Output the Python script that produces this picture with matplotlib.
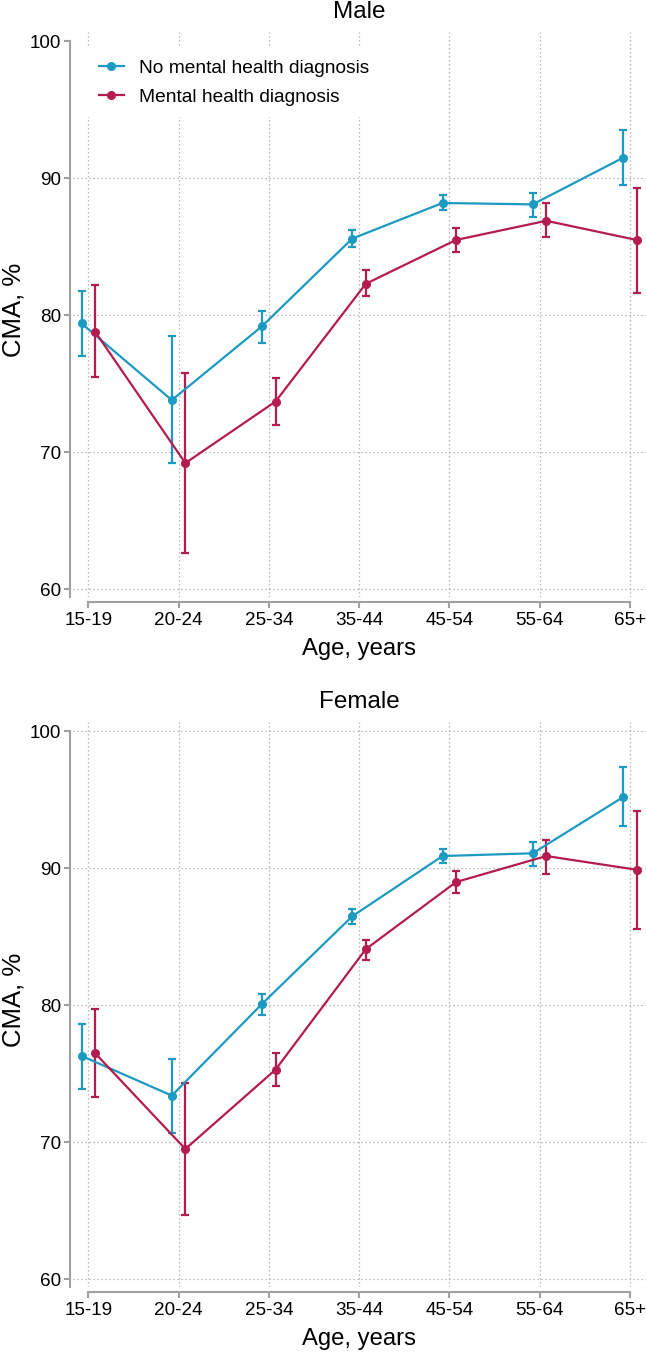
import matplotlib
matplotlib.use("Agg")
import matplotlib.pyplot as plt
import numpy as np

plt.rcParams['font.family'] = ['Liberation Sans', 'DejaVu Sans']

age_groups = ["15-19", "20-24", "25-34", "35-44", "45-54", "55-64", "65+"]
series_labels = ["No mental health diagnosis", "Mental health diagnosis"]

male_no_mh = [79.4, 73.8, 79.2, 85.6, 88.2, 88.1, 91.5]
male_no_mh_lo = [77.0, 69.2, 78.0, 85.0, 87.7, 87.2, 89.5]
male_no_mh_hi = [81.8, 78.5, 80.3, 86.2, 88.8, 88.9, 93.5]
male_mh = [78.8, 69.2, 73.7, 82.3, 85.5, 86.9, 85.5]
male_mh_lo = [75.5, 62.6, 72.0, 81.4, 84.6, 85.7, 81.6]
male_mh_hi = [82.2, 75.8, 75.4, 83.3, 86.4, 88.2, 89.3]

female_no_mh = [76.3, 73.4, 80.1, 86.5, 90.9, 91.1, 95.2]
female_no_mh_lo = [73.9, 70.7, 79.3, 85.9, 90.4, 90.2, 93.1]
female_no_mh_hi = [78.6, 76.1, 80.8, 87.0, 91.4, 91.9, 97.4]
female_mh = [76.5, 69.5, 75.3, 84.1, 89.0, 90.9, 89.9]
female_mh_lo = [73.3, 64.7, 74.1, 83.3, 88.2, 89.6, 85.6]
female_mh_hi = [79.7, 74.3, 76.5, 84.8, 89.8, 92.1, 94.2]

yticks = [60, 70, 80, 90, 100]

BLUE = "#1C9AC2"
RED = "#B51C4E"
GRID = "#a8a8a8"
SPINE = "#a0a0a0"

W, H = 646, 1352
fig = plt.figure(figsize=(W / 100, H / 100), dpi=100)

def px_axes(left, top, right, bottom):
    return fig.add_axes([left / W, 1 - bottom / H, (right - left) / W, (bottom - top) / H])

ax_m = px_axes(73, 32, 646, 597)
ax_f = px_axes(73, 722, 646, 1287)

panels = [
    (ax_m, "Male", (male_no_mh, male_no_mh_lo, male_no_mh_hi), (male_mh, male_mh_lo, male_mh_hi), [60, 70, 80, 90], True),
    (ax_f, "Female", (female_no_mh, female_no_mh_lo, female_no_mh_hi), (female_mh, female_mh_lo, female_mh_hi), [60, 70, 80, 90, 100], False),
]

x = np.arange(len(age_groups))
dodge = 0.075

for ax, title, s1, s2, hgrid, show_legend in panels:
    ax.set_xlim(-0.17, 6.18)
    ax.set_ylim(59.42, 100.69)
    for yv in hgrid:
        ax.axhline(yv, color=GRID, lw=0.9, ls=(0, (1, 2.2)), zorder=0)
    for xv in x:
        ax.axvline(xv, color=GRID, lw=0.9, ls=(0, (1, 2.2)), zorder=0)
    handles = []
    for (vals, lo, hi), off, col, lab in [(s1, -dodge, BLUE, series_labels[0]), (s2, dodge, RED, series_labels[1])]:
        v = np.array(vals); l = np.array(lo); h = np.array(hi)
        xx = x + off
        ax.errorbar(xx, v, yerr=[v - l, h - v], fmt='none', ecolor=col, elinewidth=1.6,
                    capsize=2.7, capthick=1.6, zorder=3)
        ln, = ax.plot(xx, v, color=col, lw=1.6, marker='o', ms=5.5, zorder=4, label=lab)
        handles.append(ln)
    ax.set_xticks(x)
    ax.set_xticklabels(age_groups)
    ax.set_yticks(yticks)
    for side in ['top', 'right']:
        ax.spines[side].set_visible(False)
    ax.spines['left'].set_position(('outward', 2.2))
    ax.spines['bottom'].set_position(('outward', 3.6))
    ax.spines['left'].set_bounds(59.42, 100)
    ax.spines['bottom'].set_bounds(0, 6)
    for side in ['left', 'bottom']:
        ax.spines[side].set_color(SPINE)
        ax.spines[side].set_linewidth(1.5)
    ax.tick_params(axis='both', colors=SPINE, labelcolor='black', labelsize=13.6, length=4.5, width=1.5)
    ax.tick_params(axis='y', pad=2)
    ax.tick_params(axis='x', pad=3)
    ax.set_title(title, fontsize=17.5, pad=10)
    ax.set_xlabel("Age, years", fontsize=17.2, labelpad=6)
    ax.set_ylabel("CMA, %", fontsize=18.5)
    ax.yaxis.set_label_coords((26 - 73) / 573, 0.508)
    if show_legend:
        leg = ax.legend(handles=handles, loc='upper left', bbox_to_anchor=(0.025, 0.972),
                        fontsize=13.8, frameon=True, fancybox=False, framealpha=1,
                        edgecolor='none', facecolor='white', borderaxespad=0,
                        handlelength=1.3, handletextpad=0.8, labelspacing=0.6, borderpad=0.6)
        leg.set_zorder(5)

fig.savefig("out.png", dpi=100)
